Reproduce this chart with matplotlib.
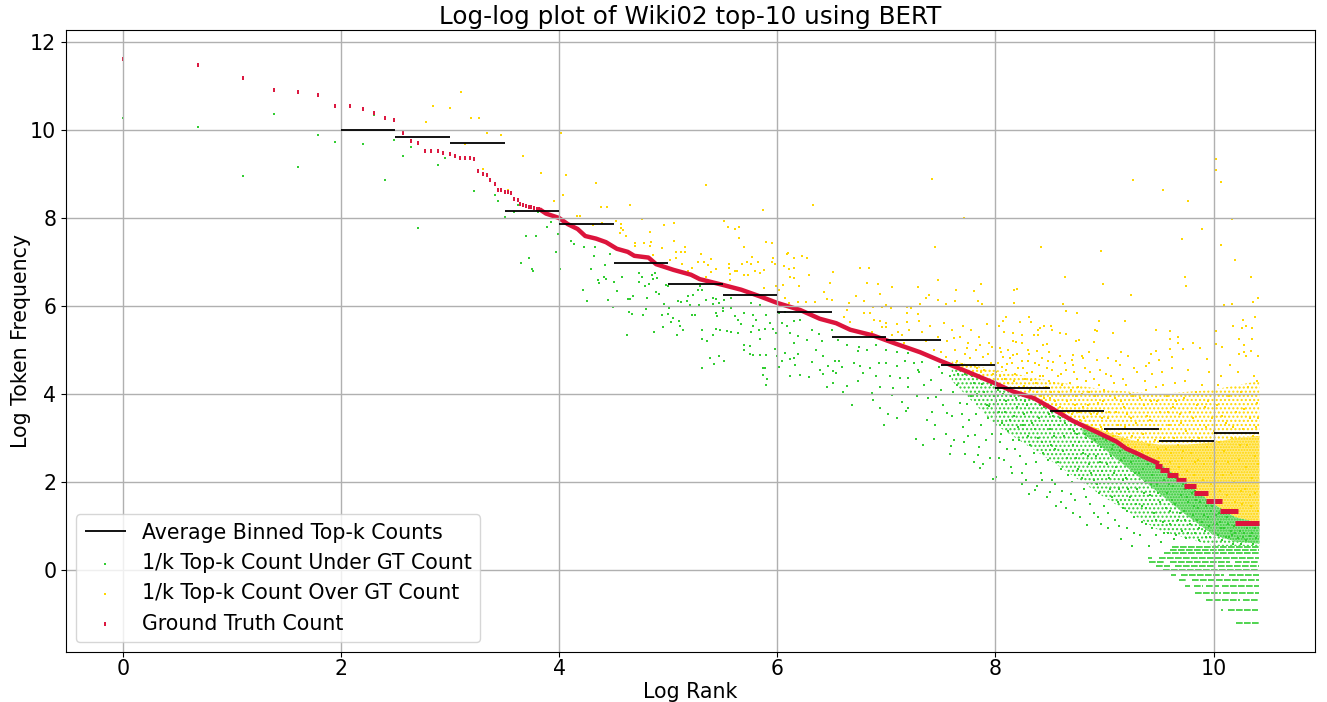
import matplotlib
matplotlib.use("Agg")
import matplotlib.pyplot as plt

GREEN, YELLOW, RED = "#32cd32", "#ffd700", "#dc143c"

gt_head = [(0,11.6),(.693,11.47),(1.10,11.17),(1.39,10.91),(1.61,10.87),(1.79,10.79),(1.95,10.55),(2.08,10.54),(2.20,10.47),(2.30,10.39),(2.40,10.26),(2.49,10.22),(2.57,9.92),(2.64,9.74),(2.71,9.70),(2.77,9.52),(2.83,9.51),(2.89,9.51),(2.94,9.48),(3.0,9.45),(3.05,9.40),(3.09,9.36),(3.14,9.36),(3.18,9.36),(3.22,9.33),(3.26,9.06),(3.30,8.99),(3.34,8.97),(3.37,8.86),(3.41,8.78),(3.44,8.64),(3.47,8.64),(3.50,8.60),(3.53,8.58),(3.56,8.57),(3.59,8.44),(3.62,8.41),(3.64,8.31),(3.67,8.29),(3.70,8.27),(3.72,8.26),(3.74,8.24),(3.77,8.23),(3.80,8.21),(3.82,8.2)]
gt_body = [(3.82,8.2),(3.88,8.10),(4.0,8.0),(4.08,7.86),(4.17,7.75),(4.24,7.59),(4.34,7.53),(4.43,7.45),(4.53,7.30),(4.63,7.23),(4.69,7.14),(4.82,7.10),(4.89,6.95),(5.05,6.82),(5.21,6.71),(5.29,6.61),(5.50,6.48),(5.67,6.37),(5.84,6.22),(6.0,6.07),(6.21,5.91),(6.39,5.71),(6.54,5.61),(6.67,5.46),(6.88,5.33),(7.09,5.14),(7.31,4.95),(7.49,4.76),(7.73,4.52),(8.0,4.24),(8.16,4.06),(8.35,3.91),(8.50,3.70),(8.71,3.39),(8.96,3.10),(9.11,2.92),(9.2,2.76),(9.3,2.65),(9.4,2.53),(9.5,2.42)]
gt_steps = [(1.07,10.2,10.42),(1.34,10.06,10.22),(1.57,9.93,10.08),(1.75,9.82,9.95),(1.91,9.73,9.84),(2.05,9.66,9.75),(2.15,9.57,9.67),(2.27,9.51,9.59),(2.37,9.46,9.53)]

bin_left = [2,2.5,3,3.5,4,4.5,5,5.5,6,6.5,7,7.5,8,8.5,9,9.5,10]
bin_right = [2.5,3,3.5,4,4.5,5,5.5,6,6.5,7,7.5,8,8.5,9,9.5,10,10.42]
bin_avg = [9.99,9.85,9.70,8.16,7.86,6.98,6.51,6.26,5.87,5.29,5.23,4.66,4.14,3.61,3.20,2.93,3.11]

green_head = [(0,10.26),(.69,10.07),(1.10,8.96),(1.39,10.36),(1.61,9.16),(1.79,9.89),(1.95,9.72),(2.2,9.69),(2.3,10.33),(2.40,8.86),(2.49,9.77),(2.57,9.40),(2.64,9.62),(2.71,7.77),(2.89,9.21),(2.95,9.36),(3.05,9.40),(3.22,8.62),(3.41,8.52),(3.44,8.38),(3.50,8.02),(3.59,8.13),(3.62,8.30),(3.70,7.60),(3.79,7.58),(3.65,6.98),(3.72,7.08),(3.75,6.84),(3.81,8.14),(3.76,6.79),(3.97,7.22),(3.99,7.64),(3.89,7.80),(3.93,7.90),(4.01,6.84)]
green_mid = [(4.11,7.47),(4.14,7.40),(4.23,7.35),(4.33,7.34),(4.32,7.14),(4.47,7.18),(4.42,6.94),(4.29,6.84),(4.36,6.60),(4.37,6.52),(4.41,6.65),(4.43,6.61),(4.50,6.55),(4.58,6.67),(4.53,6.35),(4.22,6.37),(4.26,6.11),(4.45,6.14),(4.49,5.98),(4.63,6.15),(4.65,6.17),(4.68,6.22),(4.64,5.86),(4.67,5.82),(4.77,5.80),(4.80,5.94),(4.81,6.18),(4.73,6.75),(4.76,6.67),(4.73,6.55),(4.79,6.45),(4.82,6.51),(4.85,6.71),(4.90,6.64),(4.88,6.75),(4.86,6.62),(4.89,6.32),(4.92,6.28),(4.96,6.05),(4.98,6.48),(5.0,6.45),(5.01,5.96),(4.94,5.79),(5.0,5.82),(5.04,5.73),(5.03,5.63),(5.10,5.67),(5.11,5.54),(5.14,5.45),(4.95,5.52),(4.87,5.40),(4.62,5.33),(5.08,5.33),(5.09,6.12),(5.12,6.08),(5.17,6.11),(5.18,6.22),(5.23,6.24),(5.27,6.36),(5.31,6.37),(5.20,6.03),(5.28,6.03),(5.22,5.79),(5.25,5.80),(5.29,6.46),(5.35,6.14),(5.41,6.18),(5.44,6.17),(5.47,6.07),(5.41,6.05),(5.51,6.13),(5.58,6.18),(5.50,5.95),(5.44,5.84),(5.45,5.77),(5.50,5.88),(5.58,5.95),(5.61,5.77),(5.64,5.69),(5.70,5.84),(5.78,5.80),(5.76,6.07),(5.84,6.03),(5.90,5.80),(5.81,5.69),(5.67,5.58),(5.78,5.54),(5.83,5.46),(5.89,5.48),(5.93,5.61),(5.96,5.48),(5.99,5.39),(5.84,5.25),(5.31,5.46),(5.44,5.48),(5.48,5.46),(5.54,5.44),(5.58,5.42),(5.64,5.39),(5.76,5.41),(5.31,5.25),(5.36,5.20),(5.41,5.33),(5.38,4.83),(5.47,4.86),(5.51,4.76),(5.42,4.69),(5.31,4.59),(5.70,5.12),(5.70,5.01),(5.75,5.10),(5.75,4.92),(5.78,4.89),(5.84,4.89),(5.90,4.88),(5.98,5.03),(6.0,4.87),(5.87,4.60),(5.89,4.60),(5.87,4.44),(5.91,4.34),(5.90,4.20),(6.02,4.61),(6.04,4.74),(6.07,4.93),(6.12,4.80),(6.15,4.82),(6.19,4.92),(6.16,4.67),(6.12,4.42),(6.21,4.44),(6.29,4.38),(6.32,4.73),(6.36,4.99),(6.42,4.86),(6.02,5.84),(6.07,5.86),(6.04,5.61),(6.09,5.54),(6.15,5.65),(6.21,5.69),(6.12,5.39),(6.19,5.31),(6.27,5.23),(6.15,5.16),(6.32,5.46),(6.38,5.37),(6.41,5.20),(6.50,5.46),(6.56,5.23),(6.64,5.12),(6.75,5.08),(6.82,5.01),(6.91,5.12),(7.0,5.0),(7.10,4.95),(7.20,4.93),(6.74,4.97),(6.39,4.55),(6.47,4.64),(6.53,4.74),(6.57,4.74),(6.59,4.61),(6.51,4.52),(6.42,4.46),(6.54,4.48),(6.70,4.70),(6.76,4.63),(6.85,4.59),(6.93,4.70),(7.0,4.70),(7.1,4.63),(7.17,4.74),(7.25,4.70),(6.79,4.48),(6.91,4.40),(7.03,4.40),(7.13,4.36),(7.2,4.36),(7.29,4.55),(6.74,4.29),(6.64,4.19),(6.51,4.25),(6.60,4.04),(6.46,4.17),(6.94,4.17),(7.06,4.14),(7.2,4.17),(6.87,4.02),(7.05,3.98),(7.28,3.95),(6.69,3.76),(6.88,3.86),(6.94,3.68),(7.14,3.83),(7.2,3.68),(7.02,3.55),(6.98,3.3),(7.1,3.45),(7.18,3.62),(7.27,2.99),(7.34,2.84),(7.58,2.64),(7.72,2.64),(7.8,2.46),(7.86,2.31),(7.98,2.06),(8.01,2.12)]
green_tail = [(7.3,4.5),(7.35,4.2),(7.38,3.9),(7.42,3.6),(7.45,3.3),(7.48,4.62),(7.5,4.1),(7.52,3.75),(7.55,3.1),(7.58,4.4),(7.6,3.5),(7.62,2.95),(7.65,4.2),(7.68,3.8),(7.7,3.25),(7.72,4.45),(7.75,3.05),(7.78,3.95),(7.8,4.25),(7.82,3.55),(7.85,2.8),(7.87,3.3),(7.9,4.05),(7.92,3.75),(7.95,2.55),(7.97,3.1),(7.99,3.95),
(8.02,4.1),(8.03,3.6),(8.04,2.9),(8.06,3.35),(8.08,2.5),(8.1,3.85),(8.12,3.15),(8.14,3.95),(8.15,2.2),(8.17,3.5),(8.18,2.75),(8.2,3.7),(8.22,2.95),(8.24,1.95),(8.25,3.3),(8.27,3.85),(8.28,2.4),(8.3,3.05),(8.31,1.72),(8.33,3.6),(8.35,2.65),(8.36,3.2),(8.38,1.9),(8.4,3.45),(8.42,2.2),(8.43,2.9),(8.45,3.7),(8.47,1.65),(8.48,2.5),(8.5,3.2),(8.52,2.05),(8.53,3.5),(8.55,2.75),(8.56,1.45),(8.58,3.3),(8.6,2.3),(8.61,1.8),(8.63,3.05),(8.65,1.4),(8.66,2.55),(8.68,3.2),(8.7,2.0),(8.71,2.85),(8.73,1.6),(8.75,3.1),(8.76,2.3),(8.78,1.2),(8.8,2.65),(8.81,1.85),(8.83,3.0),(8.84,1.02),(8.86,2.4),(8.87,1.5),(8.89,2.9),(8.9,2.05),(8.92,2.6),(8.94,1.2),(8.95,1.75),(8.97,2.8),(8.98,2.25),
(9.0,1.45),(9.01,2.95),(9.03,.95),(9.04,2.1),(9.06,2.6),(9.07,1.65),(9.08,2.85),(9.1,1.15),(9.11,2.35),(9.13,1.85),(9.14,2.7),(9.15,.7),(9.17,1.4),(9.18,2.55),(9.2,2.1),(9.21,.95),(9.23,1.65),(9.24,2.45),(9.25,.55),(9.27,1.2),(9.28,2.2),(9.3,1.85),(9.31,2.55),(9.33,.8),(9.34,1.45),(9.35,2.3),(9.37,2.0),(9.38,1.05),(9.4,2.4),(9.41,.55),(9.42,1.7),(9.44,2.15),(9.45,1.3),(9.47,.8),(9.48,1.95),(9.5,2.3),(9.51,1.55),(9.52,.65),(9.54,1.1),(9.55,2.05),(9.57,1.75),(9.58,.85),(9.6,1.35),(9.61,2.15),(9.63,1.9),(9.64,.7),(9.65,1.5),(9.67,1.15),(9.68,2.0),(9.7,1.7),(9.71,.9),(9.73,1.35),(9.74,1.85),(9.75,.72),(9.77,1.55),(9.78,1.05),(9.8,1.75),(9.81,1.25),(9.83,.85),(9.84,1.6),(9.86,1.4),(9.87,.68),(9.89,1.1),(9.9,1.7),(9.92,.9),(9.93,1.45),(9.95,1.2),(9.97,.75),(9.98,1.35),(10.0,1.05),(10.02,1.25),(10.04,.8),(10.06,1.1),(10.08,.68),(10.1,.95),(10.12,1.2),(10.14,.75),(10.16,.9),(10.18,.6),(10.2,.85),(10.22,.72),(10.25,.6),(10.28,.85),(10.3,.68),(10.33,.78),(10.36,.6),(10.39,.72)]
green_more = [(7.33,4.72),(7.41,4.33),(7.37,3.42),(7.46,3.94),(7.51,4.48),(7.56,3.58),(7.44,2.98),(7.61,4.05),(7.66,4.45),(7.59,2.82),(7.69,3.55),(7.74,3.78),(7.71,2.9),(7.79,4.4),(7.76,3.4),(7.83,4.0),(7.81,3.08),(7.88,4.22),(7.84,2.62),(7.93,3.45),(7.91,2.95),(7.96,4.2),(7.94,3.72),(7.89,2.4),
(8.01,3.85),(8.05,3.1),(8.03,2.55),(8.09,3.6),(8.07,4.0),(8.11,2.75),(8.13,3.4),(8.16,2.95),(8.19,3.9),(8.14,2.35),(8.21,3.25),(8.23,2.6),(8.26,3.55),(8.24,2.2),(8.29,3.75),(8.32,2.85),(8.28,2.05),(8.34,3.35),(8.37,2.45),(8.39,3.0),(8.41,3.75),(8.36,1.82),(8.44,2.65),(8.46,3.3),(8.43,2.05),(8.49,3.55),(8.51,2.85),(8.5,1.78),(8.54,3.05),(8.57,2.45),(8.55,1.95),(8.59,3.45),(8.62,2.7),(8.6,1.55),(8.64,3.35),(8.67,2.15),(8.69,1.72),(8.72,3.15),(8.74,2.55),(8.71,1.3),(8.77,2.9),(8.79,2.1),(8.82,3.1),(8.85,2.6),(8.83,1.65),(8.88,2.2),(8.91,2.95),(8.93,1.95),(8.96,2.45),(8.99,3.0),(8.9,1.3),(8.97,1.05),
(9.02,2.4),(9.05,1.85),(9.03,1.3),(9.07,2.75),(9.09,2.2),(9.12,1.55),(9.15,2.5),(9.13,1.0),(9.17,2.05),(9.19,2.8),(9.22,1.85),(9.21,1.35),(9.26,2.6),(9.29,1.5),(9.27,.85),(9.32,2.2),(9.34,1.1),(9.36,1.75),(9.39,2.55),(9.38,1.4),(9.43,1.95),(9.46,2.45),(9.44,.95),(9.49,1.75),(9.47,1.15),(9.53,2.25),(9.56,1.4),(9.55,.85),(9.59,1.95),(9.62,1.6),(9.6,1.05),(9.66,2.1),(9.69,1.3),(9.66,.8),(9.72,1.95),(9.74,1.15),(9.76,1.65),(9.79,1.9),(9.77,.85),(9.82,1.45),(9.85,1.15),(9.83,1.8),(9.88,1.55),(9.87,.95),(9.91,1.25),(9.94,1.55),(9.93,.75),(9.96,1.0),(9.99,1.45),(10.01,.85),(10.03,1.05),(10.05,1.3),(10.07,.95),(10.11,.75),(10.13,1.05),(10.17,.8),(10.19,1.0),(10.24,.9),(10.27,.75),(10.31,.95),(10.35,.85),(10.38,.95)]
green_rows = [(-1.20,10.21,10.42),(-0.91,10.07,10.09),(-0.91,10.13,10.41),(-0.69,9.93,10.24),(-0.69,10.27,10.41),(-0.51,9.83,10.07),(-0.51,10.09,10.42),(-0.36,9.74,9.78),(-0.36,9.82,9.90),(-0.36,9.93,10.05),(-0.36,10.08,10.42),(-0.23,9.68,9.76),(-0.23,9.80,10.42),(-0.10,9.61,9.66),(-0.10,9.70,10.10),(-0.10,10.14,10.42),(0,9.54,10.42),(.09,9.47,9.60),(.09,9.65,10.0),(.09,10.04,10.42),(.18,9.41,9.55),(.18,9.60,10.15),(.18,10.2,10.42),(.28,9.40,9.44),(.28,9.50,10.42),(.38,9.55,10.42),(.45,9.6,10.42),(.53,9.62,10.42)]

yellow_head = [(2.78,10.17),(2.84,10.55),(3.0,10.49),(3.10,10.86),(3.19,10.28),(3.27,10.26),(3.34,9.93),(3.47,9.89),(3.14,9.69),(3.67,9.40),(3.30,9.12),(3.53,8.64),(3.83,9.03),(4.02,9.92),(4.06,8.97),(4.34,8.80),(5.35,8.76),(4.04,8.53),(3.95,8.38),(4.38,8.25),(4.44,8.26),(4.65,8.30),(5.87,8.19),(6.33,8.30)]
yellow_mid = [(4.16,8.05),(4.19,8.05),(4.76,7.98),(5.51,7.94),(4.52,7.92),(4.57,7.86),(4.31,7.83),(4.39,7.89),(5.05,7.89),(4.96,7.83),(4.57,7.78),(4.59,7.73),(4.56,7.65),(4.61,7.58),(4.83,7.67),(5.55,7.79),(5.61,7.75),(5.65,7.80),(5.65,7.54),(5.05,7.47),(4.70,7.43),(4.78,7.42),(4.84,7.46),(4.83,7.36),(4.70,7.36),(5.70,7.33),(5.90,7.45),(5.95,7.42),(4.94,7.32),(5.15,7.33),(5.12,7.23),(5.15,7.23),(5.07,7.23),(5.30,7.18),(4.86,7.17),(5.02,7.05),(5.07,7.09),(5.13,6.96),(5.27,6.99),(5.33,6.99),(5.39,7.07),(5.37,6.94),(5.44,6.84),(5.39,6.77),(5.35,6.67),(5.22,6.86),(5.18,6.79),(5.56,6.96),(5.56,6.86),(5.61,6.80),(5.63,6.80),(5.57,6.73),(5.57,6.58),(5.70,6.70),(5.73,6.71),(5.68,6.96),(5.72,6.99),(5.76,6.96),(5.77,7.11),(5.82,7.01),(5.80,6.80),(5.84,6.75),(5.88,6.81),(5.96,7.09),(5.95,7.01),(5.98,6.95),(6.09,7.18),(6.10,7.20),(6.15,7.08),(6.23,7.14),(6.27,7.08),(6.06,6.92),(6.11,6.83),(6.15,6.86),(6.12,6.67),(6.15,6.64),(6.29,6.71),(6.20,6.45),(6.05,6.48),(5.99,6.46),(5.88,6.40),(6.02,6.37),(6.07,6.18),(6.11,6.07),(6.19,6.08),(6.26,6.08),(6.35,6.10),(6.51,6.78),(6.48,6.53),(6.43,6.31),(6.46,6.17),(6.50,6.13),(6.76,6.86),(6.84,6.86),(6.82,6.53),(6.92,6.51),(7.05,6.43),(6.94,6.27),(6.72,6.22),(6.80,6.11),(6.66,6.07),(6.64,5.90),(6.61,5.76),(6.80,5.84),(6.85,5.84),(6.88,5.97),(6.96,5.97),(7.0,6.02),(7.04,5.95),(7.19,5.97),(7.23,5.95),(7.19,5.85),(7.29,5.81),(6.67,5.64),(6.89,5.69),(6.94,5.66),(7.0,5.61),(6.96,5.52),(7.0,5.52),(7.10,5.60),(7.19,5.63),(7.11,5.40),(6.87,5.41),(7.05,5.35),(7.21,5.46),(7.14,5.33),(7.16,5.16)]
yellow_high = [(7.42,8.89),(7.71,8.0),(7.45,7.33),(7.47,6.58),(7.29,6.43),(7.64,6.37),(7.87,6.50),(7.80,6.33),(7.39,6.26),(7.36,6.18),(7.31,6.05),(7.47,6.14),(7.55,6.05),(7.63,6.12),(7.84,6.12),(7.88,6.05),(8.17,6.37),(8.20,6.39),(8.17,6.07),(8.42,7.35),(8.64,6.65),(8.62,6.05),(8.65,5.89),(8.75,5.84),(8.97,7.26),(8.99,6.49),(9.26,8.87),(9.24,6.26),(9.54,8.64),(9.77,8.38),(9.71,7.52),(9.89,7.74),(9.74,6.67),(9.75,6.45),(10.02,9.33),(10.02,9.10),(10.07,8.82),(10.17,7.98),(10.07,7.39),(10.20,7.05),(10.34,6.67),(10.41,6.18),(10.36,6.08),(10.10,6.03),(10.17,6.05),(10.38,5.76),(10.27,5.69),(10.18,5.54),(10.26,5.5),(10.30,5.55),(10.35,5.5),(10.02,5.44),(10.23,5.25),(10.35,5.25),(10.02,5.14),(10.08,5.08),(10.28,5.12),(10.23,4.92),(10.34,4.97),(10.28,4.95),(10.30,4.86),(10.41,4.86),(8.95,5.67),(9.19,5.65),(8.91,5.45),(8.93,5.44),(9.08,5.39),(9.47,5.45),(9.60,5.44),(9.60,5.25),(9.67,5.29),(9.67,5.17),(9.81,5.17),(8.77,5.23),(8.74,5.2),(8.90,5.18),(9.88,5.05),(9.72,5.03),(9.60,5.02),(9.47,4.97),(9.43,4.92),(9.15,4.95),(8.86,4.95),(8.59,5.39),(8.65,5.37),(8.51,5.54),(8.45,5.55),(8.41,5.5),(8.31,5.76),(8.23,5.64),(8.33,5.64),(8.10,5.75),(8.07,5.65),(8.03,5.54),(8.16,5.39),(8.08,5.41),(8.24,5.35),(8.35,5.33),(8.39,5.33),(8.39,5.46),(8.52,5.45),(8.44,5.12),(8.47,5.14),(8.16,5.2),(8.19,5.18),(8.24,5.16),(8.30,5.01),(8.38,4.97),(8.49,4.95),(8.04,5.05),(8.12,5.01),(8.59,4.86),(8.71,4.89),(8.79,4.86),(8.80,4.82),(8.70,4.78),(8.93,4.78),(9.03,4.82),(9.22,4.86),(9.11,4.74),(9.38,4.64),(9.50,4.78),(9.62,4.84),(9.41,4.70),(9.94,4.80)]
yellow_low = [(7.3,5.65),(7.33,5.4),(7.36,5.2),(7.4,5.55),(7.44,5.0),(7.47,5.3),(7.5,4.95),(7.53,5.62),(7.56,5.2),(7.6,5.45),(7.63,5.0),(7.65,4.75),(7.68,5.3),(7.7,5.55),(7.72,4.9),(7.75,5.15),(7.78,5.45),(7.8,4.65),(7.82,5.0),(7.85,5.3),(7.87,4.5),(7.89,4.85),(7.92,5.6),(7.94,5.15),(7.96,4.7),(7.98,4.45),
(8.02,4.7),(8.04,4.4),(8.07,4.85),(8.1,4.55),(8.12,4.25),(8.15,4.7),(8.18,4.45),(8.2,4.9),(8.22,4.15),(8.25,4.6),(8.27,4.35),(8.3,4.75),(8.32,4.1),(8.34,4.5),(8.37,4.25),(8.4,4.65),(8.42,3.95),(8.44,4.4),(8.46,4.15),(8.48,4.75),(8.5,3.9),(8.52,4.55),(8.54,4.25),(8.56,3.75),(8.58,4.05),(8.6,4.45),(8.62,3.6),(8.64,4.7),(8.66,3.85),(8.68,4.25),(8.7,3.55),(8.72,4.5),(8.74,3.95),(8.76,4.15),(8.78,3.4),(8.8,3.7),(8.82,4.6),(8.84,3.3),(8.86,4.05),(8.88,3.55),(8.9,4.35),(8.92,3.2),(8.94,3.8),(8.96,4.55),(8.98,3.45),
(9.0,4.1),(9.02,3.15),(9.04,3.6),(9.06,4.4),(9.08,3.05),(9.1,3.9),(9.12,3.3),(9.14,4.65),(9.16,2.95),(9.18,3.7),(9.2,4.2),(9.22,2.85),(9.24,3.45),(9.26,3.95),(9.28,2.8),(9.3,4.5),(9.32,3.2),(9.34,2.7),(9.36,3.75),(9.38,4.1),(9.4,2.65),(9.42,3.4),(9.44,4.45),(9.46,2.95),(9.48,3.85),(9.5,2.55),(9.52,3.2),(9.54,4.2),(9.56,2.75),(9.58,3.6),(9.6,2.45),(9.62,4.6),(9.64,3.0),(9.66,3.85),(9.68,2.35),(9.7,3.35),(9.72,2.7),(9.74,4.3),(9.76,2.25),(9.78,3.6),(9.8,2.95),(9.82,2.15),(9.84,4.05),(9.86,2.5),(9.88,3.3),(9.9,2.05),(9.92,3.7),(9.94,2.8),(9.96,4.5),(9.98,1.95),
(10.0,3.15),(10.02,2.45),(10.04,4.2),(10.06,1.8),(10.08,3.5),(10.1,2.7),(10.12,1.7),(10.14,3.95),(10.16,2.2),(10.18,3.25),(10.2,1.55),(10.22,4.5),(10.24,2.85),(10.26,1.5),(10.28,3.65),(10.3,2.35),(10.32,4.15),(10.34,1.45),(10.36,3.05),(10.38,2.6),(10.4,3.8),(10.41,1.35)]
yellow_more = [(7.55,4.85),(7.62,5.28),(7.69,4.68),(7.74,5.05),(7.77,4.82),(7.83,4.6),(7.86,5.12),(7.9,4.55),(7.93,4.9),(7.97,5.08),
(8.01,4.5),(8.06,4.62),(8.05,4.95),(8.09,4.35),(8.13,4.82),(8.11,4.68),(8.17,4.3),(8.16,4.88),(8.21,4.6),(8.24,4.75),(8.26,4.18),(8.29,4.48),(8.31,4.9),(8.33,4.32),(8.36,4.7),(8.38,4.05),(8.41,4.42),(8.43,4.82),(8.45,3.9),(8.47,4.6),(8.49,4.3),(8.51,4.05),(8.53,4.72),(8.55,3.85),(8.57,4.42),(8.59,3.7),(8.61,4.2),(8.63,3.95),(8.65,4.55),(8.67,3.6),(8.69,4.1),(8.71,4.65),(8.73,3.75),(8.75,4.35),(8.77,3.6),(8.79,4.0),(8.81,3.45),(8.83,4.3),(8.85,3.75),(8.87,4.5),(8.89,3.3),(8.91,3.95),(8.93,3.55),(8.95,4.2),(8.97,3.25),(8.99,3.85),
(9.01,4.45),(9.03,3.45),(9.05,3.95),(9.07,3.2),(9.09,4.25),(9.11,3.6),(9.13,3.1),(9.15,3.85),(9.17,4.35),(9.19,3.25),(9.21,3.55),(9.23,4.0),(9.25,3.05),(9.27,4.6),(9.29,3.35),(9.31,2.95),(9.33,3.9),(9.35,3.1),(9.37,4.3),(9.39,3.5),(9.41,2.85),(9.43,3.85),(9.45,3.2),(9.47,4.15),(9.49,2.75),(9.51,3.6),(9.53,4.5),(9.55,3.0),(9.57,3.95),(9.59,3.3),(9.61,2.65),(9.63,3.7),(9.65,4.25),(9.67,2.85),(9.69,3.55),(9.71,2.55),(9.73,3.9),(9.75,3.15),(9.77,4.55),(9.79,2.65),(9.81,3.45),(9.83,2.45),(9.85,3.75),(9.87,3.0),(9.89,4.2),(9.91,2.4),(9.93,3.25),(9.95,3.85),(9.97,2.55),(9.99,3.45),
(10.01,2.2),(10.03,3.75),(10.05,2.9),(10.07,4.4),(10.09,2.15),(10.11,3.35),(10.13,2.45),(10.15,4.65),(10.17,3.0),(10.19,2.0),(10.21,3.6),(10.23,2.5),(10.25,4.05),(10.27,3.2),(10.29,1.85),(10.31,2.85),(10.33,3.45),(10.35,2.1),(10.37,4.4),(10.39,3.25),(10.41,2.4),(10.41,3.45),(10.4,4.3),(10.38,1.75),(10.33,1.7),(10.25,1.8)]

wide_x = [7.6,8.0,8.5,9.0,9.5,10.0,10.42]
wide_gt = [4.65,4.24,3.72,3.05,2.42,1.5,1.07]
wide_yellow_top = [4.75,4.55,4.3,4.1,4.0,4.1,4.3]
wide_green_bottom = [4.3,3.3,2.5,1.65,0.9,0.55,0.55]
core_x = [8.8,9.0,9.25,9.5,9.75,10.0,10.2,10.42]
core_yellow_top = [3.35,3.15,2.95,2.85,2.85,2.9,3.0,3.05]
core_yellow_base = [3.32,3.08,2.72,2.42,1.98,1.5,1.2,1.07]
core_green_top = [3.32,3.08,2.72,2.42,1.98,1.5,1.2,1.07]
core_green_bottom = [3.1,2.75,2.25,1.75,1.25,0.8,0.65,0.6]

fig = plt.figure(figsize=(13.27, 7.02), dpi=100)
ax = fig.add_axes([66/1327, 1-652/702, (1315-66)/1327, (652-30)/702])

ax.fill_between(wide_x, wide_gt, wide_yellow_top, facecolor="none", edgecolor=YELLOW, hatch="....", lw=0, zorder=0.9)
ax.fill_between(wide_x, wide_green_bottom, wide_gt, facecolor="none", edgecolor=GREEN, hatch="....", lw=0, zorder=0.9)
ax.fill_between(core_x, core_yellow_base, core_yellow_top, facecolor="#ffe980", edgecolor=YELLOW, hatch="......", lw=0, zorder=0.95)
ax.fill_between(core_x, core_green_bottom, core_green_top, facecolor="#93e493", edgecolor=GREEN, hatch="......", lw=0, zorder=0.95)

ax.hlines(bin_avg, bin_left, bin_right, colors="black", lw=1.3, zorder=2, label="Average Binned Top-k Counts")

def xy(*groups):
    pts = [p for g in groups for p in g]
    return [p[0] for p in pts], [p[1] for p in pts]

gx, gy = xy(green_head, green_mid, green_tail, green_more)
ax.scatter(gx, gy, s=4, marker="s", c=GREEN, linewidths=0, zorder=1, label="1/k Top-k Count Under GT Count")
for y, a, b in green_rows:
    ax.plot([a, b], [y, y], color=GREEN, lw=1.2, linestyle=(0, (4, 0.8)), zorder=1)
yx, yy = xy(yellow_head, yellow_mid, yellow_high, yellow_low, yellow_more)
ax.scatter(yx, yy, s=4, marker="s", c=YELLOW, linewidths=0, zorder=1, label="1/k Top-k Count Over GT Count")

hx, hy = xy(gt_head)
ax.scatter(hx, hy, s=11, marker="|", c=RED, linewidths=1.4, zorder=1.1, label="Ground Truth Count")
bx, by = xy(gt_body)
ax.plot(bx, by, color=RED, lw=3.2, solid_capstyle="butt", zorder=1.1)
for y, a, b in gt_steps:
    ax.plot([a, b], [y, y], color=RED, lw=3.6, solid_capstyle="butt", zorder=1.1)

ax.set_xlim(-0.52, 10.93)
ax.set_ylim(-1.86, 12.27)
ax.set_xticks([0, 2, 4, 6, 8, 10])
ax.set_yticks([0, 2, 4, 6, 8, 10, 12])
ax.grid(True, color="#b0b0b0", lw=1.0)
ax.tick_params(labelsize=14.8)
ax.tick_params(axis="x", pad=1.5)
ax.set_title("Log-log plot of Wiki02 top-10 using BERT", fontsize=17.7, pad=4)
ax.set_xlabel("Log Rank", fontsize=14.8, labelpad=2.5)
ax.set_ylabel("Log Token Frequency", fontsize=14.8, labelpad=-1)
ax.legend(loc="lower left", fontsize=14.8, scatterpoints=1, borderaxespad=0.5)

fig.savefig("out.png", dpi=100)
